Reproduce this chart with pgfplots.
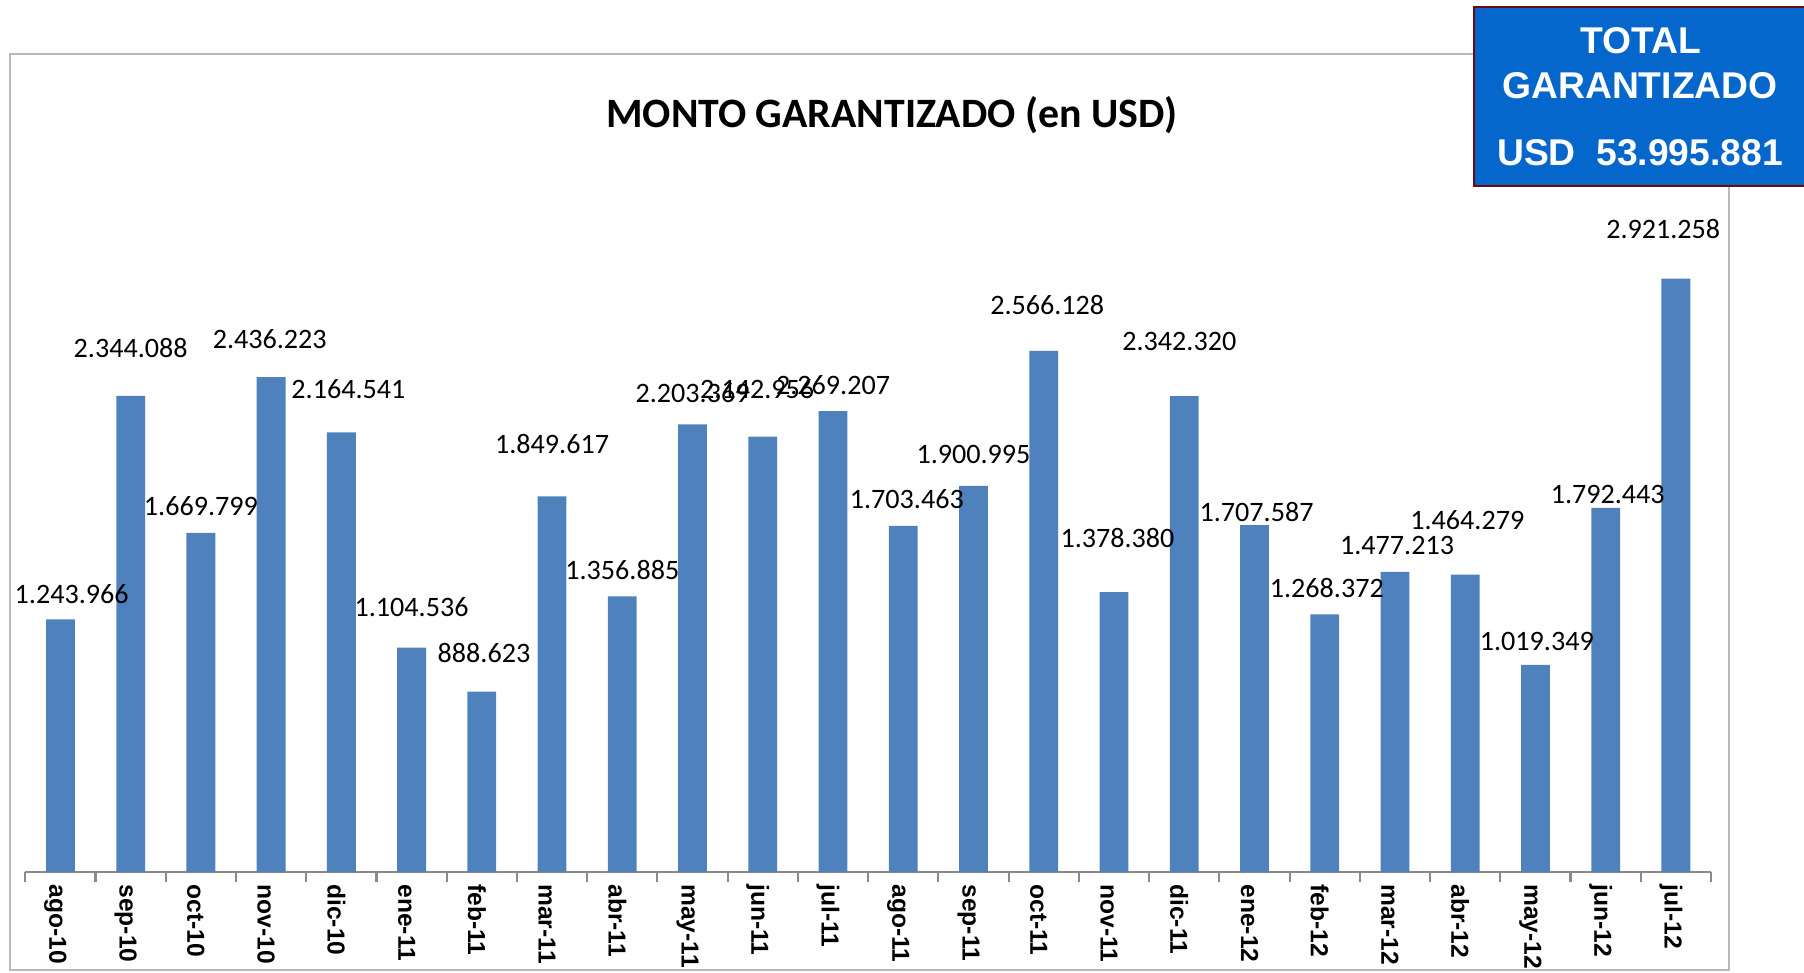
\documentclass[border=0pt]{standalone}
\usepackage{fontspec}
\setmainfont{Carlito}
\newfontfamily\arial{Liberation Sans}
\usepackage{pgfplots}
\pgfplotsset{compat=1.18}
\definecolor{barblue}{HTML}{4F81BD}
\definecolor{boxblue}{HTML}{0566CC}
\definecolor{boxrim}{HTML}{6B0A0A}
\definecolor{axgray}{HTML}{8A8A8A}

\pgfplotstableread{
x      y        label
0.16   1370000  1.243.966
1      2582000  2.344.088
2      1801000  1.669.799
2.98   2622000  2.436.223
4.10   2378000  2.164.541
5      1302000  1.104.536
6.03   1076000  888.623
7      2106000  1.849.617
8      1489000  1.356.885
9      2356000  2.203.369
9.92   2378000  2.142.956
11     2395000  2.269.207
12.05  1835000  1.703.463
13     2056000  1.900.995
14.05  2792000  2.566.128
15.05  1642000  1.378.380
15.93  2610000  2.342.320
17.03  1772000  1.707.587
18.03  1399000  1.268.372
19.03  1608000  1.477.213
20.03  1733000  1.464.279
21.02  1133000  1.019.349
22.03  1857000  1.792.443
22.82  3165000  2.921.258
}\labeltable

\begin{document}
\begin{tikzpicture}
\useasboundingbox (0,0) rectangle (18.04,-9.73);
% chart frame
\draw[gray!55, line width=0.02cm] (0.10,-0.54) rectangle (17.29,-9.70);
\node[font=\bfseries\fontsize{11.9}{14}\selectfont] at (8.92,-1.15) {MONTO GARANTIZADO (en USD)};

\begin{axis}[
  at={(0.253cm,-8.72cm)}, anchor=south west,
  scale only axis, width=16.857cm, height=6.50cm,
  xmin=-0.5, xmax=23.5, ymin=0, ymax=3.2e6,
  hide y axis,
  axis x line*=bottom,
  x axis line style={draw=axgray, line width=0.6pt},
  xtick={0,...,23},
  xticklabels={ago-10,sep-10,oct-10,nov-10,dic-10,ene-11,feb-11,mar-11,abr-11,may-11,jun-11,jul-11,
               ago-11,sep-11,oct-11,nov-11,dic-11,ene-12,feb-12,mar-12,abr-12,may-12,jun-12,jul-12},
  major tick length=0pt,
  minor xtick={-0.5,0.5,...,23.5},
  minor tick length=0.1cm,
  tick align=outside,
  minor tick style={draw=axgray, line width=0.6pt},
  xticklabel style={rotate=-90, anchor=west, font=\arial\bfseries\fontsize{7}{8}\selectfont, yshift=-0.05cm},
  clip=false,
]
  \addplot[ybar, fill=barblue, draw=none, bar width=0.288cm] coordinates {
    (0,1243966) (1,2344088) (2,1669799) (3,2436223) (4,2164541) (5,1104536)
    (6,888623) (7,1849617) (8,1356885) (9,2203369) (10,2142956) (11,2269207)
    (12,1703463) (13,1900995) (14,2566128) (15,1378380) (16,2342320) (17,1707587)
    (18,1268372) (19,1477213) (20,1464279) (21,1019349) (22,1792443) (23,2921258)};
  \addplot[only marks, mark=none, nodes near coords, point meta=explicit symbolic,
    every node near coord/.append style={anchor=center, inner sep=0pt, font=\fontsize{8}{9}\selectfont}]
    table[x=x, y=y, meta=label] {\labeltable};
\end{axis}

% total box
\draw[fill=boxblue, draw=boxrim, line width=0.025cm] (14.74,-0.07) rectangle (18.40,-1.86);
\begin{scope}[every node/.style={text=white, font=\arial\bfseries\fontsize{10.6}{12}\selectfont}]
  \node at (16.41,-0.41) {TOTAL};
  \node at (16.40,-0.86) {GARANTIZADO};
  \node at (16.40,-1.53) {USD\ \ 53.995.881};
\end{scope}
\end{tikzpicture}
\end{document}
